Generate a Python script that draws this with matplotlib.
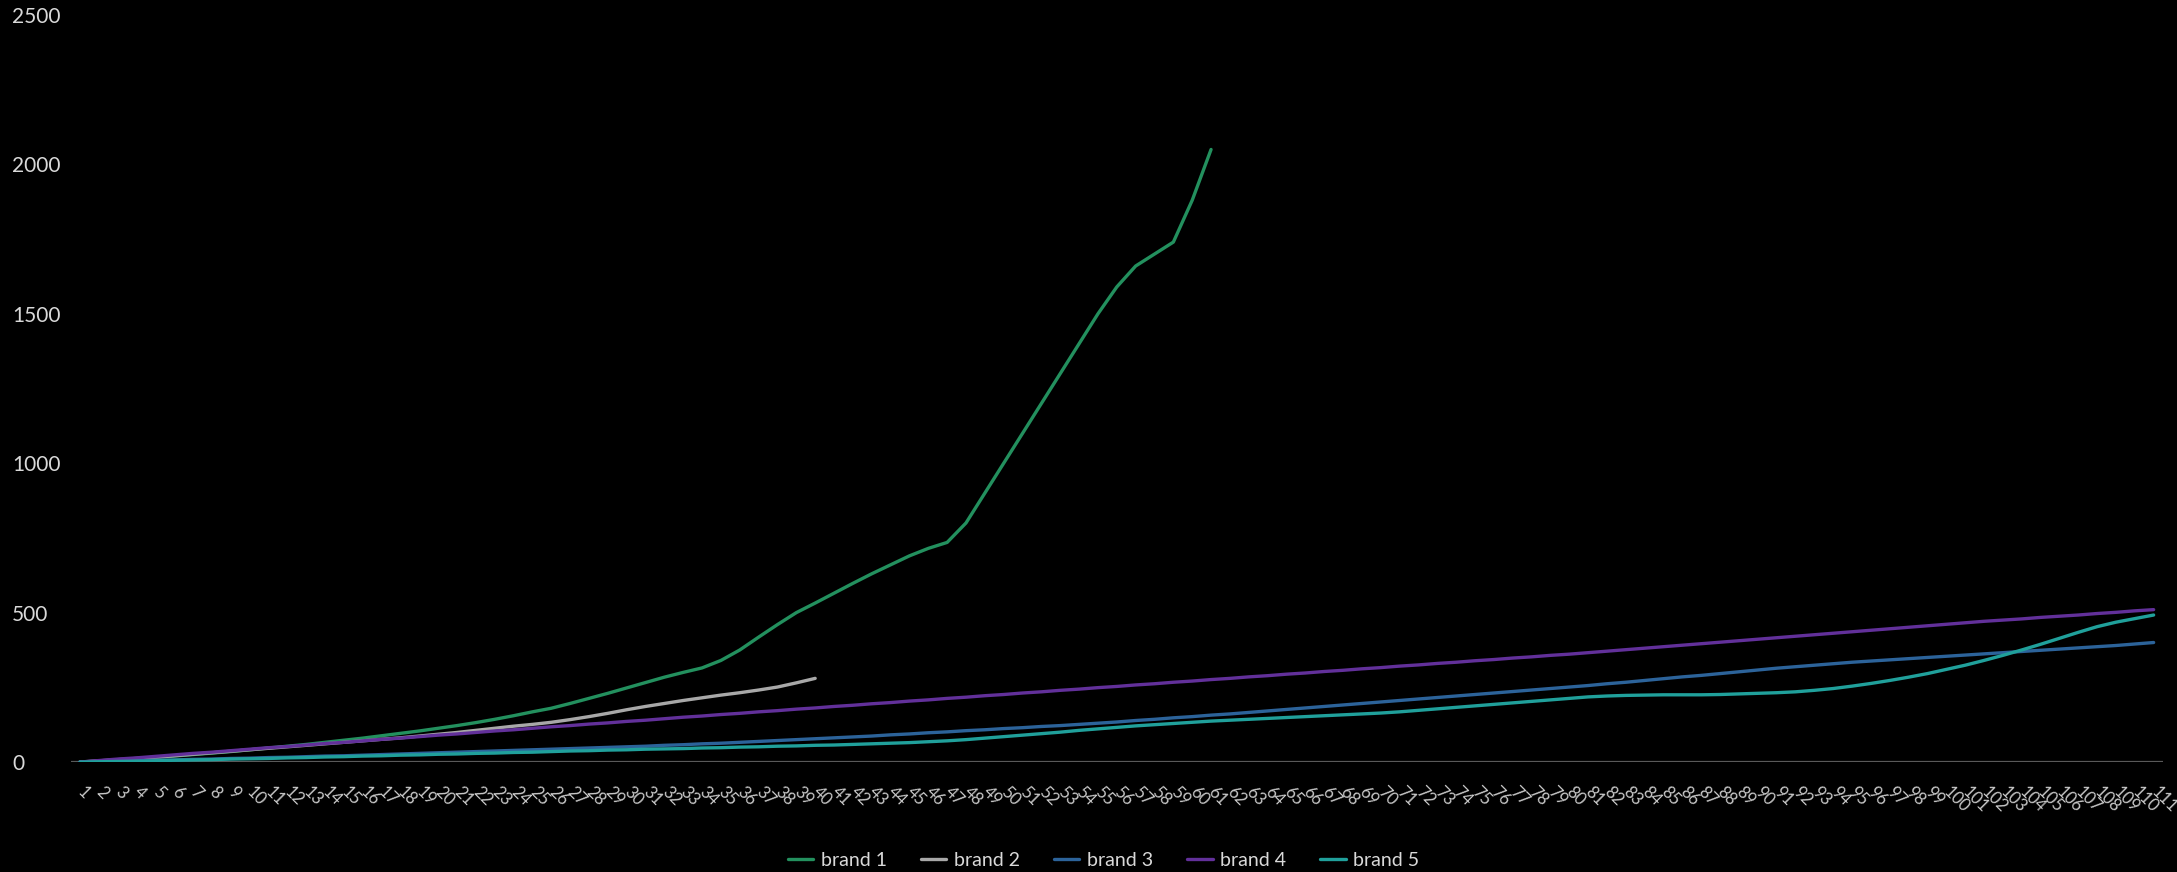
import matplotlib
matplotlib.use("Agg")
from matplotlib import pyplot as plt

# category labels along the x axis
days = [str(d) for d in range(1, 112)]

brand_1 = [0, 3, 7, 11, 15, 20, 25, 30, 35, 41,
           47, 53, 59, 66, 73, 80, 88, 96, 104, 113,
           122, 132, 143, 155, 168, 180, 196, 213, 230, 248,
           266, 284, 300, 315, 340, 375, 418, 460, 500, 532,
           565, 598, 630, 660, 690, 715, 735, 800, 900, 1000,
           1100, 1200, 1300, 1400, 1500, 1590, 1660, 1700, 1740, 1880,
           2050]

brand_2 = [0, 4, 8, 12, 16, 21, 26, 31, 36, 41,
           46, 51, 56, 61, 66, 71, 76, 81, 87, 93,
           99, 106, 113, 120, 126, 133, 142, 152, 163, 175,
           186, 196, 206, 215, 224, 232, 241, 251, 265, 280]

brand_3 = [0, 1, 3, 4, 6, 7, 9, 10, 12, 13,
           15, 16, 18, 20, 21, 23, 25, 27, 29, 31,
           33, 35, 37, 39, 41, 43, 45, 47, 49, 51,
           53, 56, 58, 61, 63, 66, 69, 72, 75, 78,
           81, 84, 87, 91, 94, 98, 101, 105, 108, 112,
           115, 119, 122, 126, 130, 134, 139, 143, 148, 152,
           157, 161, 166, 171, 176, 181, 186, 191, 196, 201,
           206, 211, 216, 221, 226, 231, 236, 241, 246, 251,
           256, 262, 267, 273, 279, 285, 290, 296, 302, 308,
           314, 319, 324, 329, 334, 338, 342, 346, 350, 354,
           358, 362, 366, 370, 374, 378, 382, 386, 390, 395,
           400]

brand_4 = [0, 5, 10, 14, 19, 24, 29, 33, 38, 43,
           48, 52, 57, 62, 66, 71, 76, 80, 85, 90,
           94, 99, 104, 108, 113, 118, 122, 127, 131, 136,
           140, 145, 150, 154, 159, 163, 168, 172, 177, 181,
           186, 190, 195, 199, 204, 208, 213, 217, 222, 226,
           231, 235, 240, 244, 249, 253, 258, 262, 267, 271,
           276, 280, 285, 289, 294, 298, 303, 307, 312, 316,
           321, 325, 330, 334, 339, 343, 348, 352, 357, 361,
           366, 371, 376, 381, 386, 391, 396, 401, 406, 411,
           416, 421, 426, 431, 436, 441, 446, 451, 456, 461,
           466, 471, 475, 479, 484, 488, 492, 497, 501, 506,
           510]

brand_5 = [0, 1, 2, 3, 4, 6, 7, 8, 10, 11,
           12, 14, 15, 17, 18, 20, 21, 23, 24, 26,
           27, 29, 30, 32, 33, 35, 37, 38, 40, 41,
           43, 44, 45, 47, 48, 50, 51, 53, 54, 56,
           57, 59, 61, 63, 65, 68, 71, 75, 80, 85,
           90, 95, 100, 106, 111, 116, 121, 125, 129, 133,
           137, 140, 143, 146, 149, 152, 155, 158, 161, 164,
           168, 173, 178, 183, 188, 193, 198, 203, 208, 213,
           218, 221, 223, 224, 225, 225, 225, 226, 228, 230,
           232, 235, 240, 246, 254, 263, 273, 284, 296, 310,
           324, 340, 357, 375, 394, 414, 434, 453, 468, 480,
           492]

names = ["brand 1", "brand 2", "brand 3", "brand 4", "brand 5"]
colors = ["#23905e", "#a8a8a8", "#2c639a", "#62309a", "#20a09b"]

plt.rcParams['font.family'] = ['Lato', 'DejaVu Sans']

fig = plt.figure(figsize=(21.77, 8.72), dpi=100, facecolor="black")
ax = fig.add_axes([0.0324, 0.1261, 0.9612, 0.8567], facecolor="black")

for name, values, c in zip(names, [brand_1, brand_2, brand_3, brand_4, brand_5], colors):
    ax.plot(range(len(values)), values, color=c, lw=2.4, label=name,
            solid_capstyle="round", solid_joinstyle="round")

ax.axhline(0, color="#595959", lw=1.6, zorder=0)

ax.set_xlim(-0.5, len(days) - 0.5)
ax.set_ylim(0, 2500)
ax.set_yticks([0, 500, 1000, 1500, 2000, 2500])
ax.set_xticks(range(len(days)))
ax.set_xticklabels(days, rotation=-45, ha="left", va="center",
                   rotation_mode="anchor", fontsize=12, color="#c8c8c8")
for lbl in ax.get_yticklabels():
    lbl.set_horizontalalignment("left")
ax.tick_params(axis="y", length=0, pad=42, labelsize=15, labelcolor="#d9d9d9")
ax.tick_params(axis="x", length=0, pad=20)

for side in ax.spines.values():
    side.set_visible(False)

leg = fig.legend(loc="center", bbox_to_anchor=(0.507, 0.0135), ncol=5,
                 frameon=False, fontsize=14, handlelength=1.3,
                 handletextpad=0.4, columnspacing=1.75)
for t in leg.get_texts():
    t.set_color("#d9d9d9")

fig.savefig("out.png", dpi=100, facecolor="black")
